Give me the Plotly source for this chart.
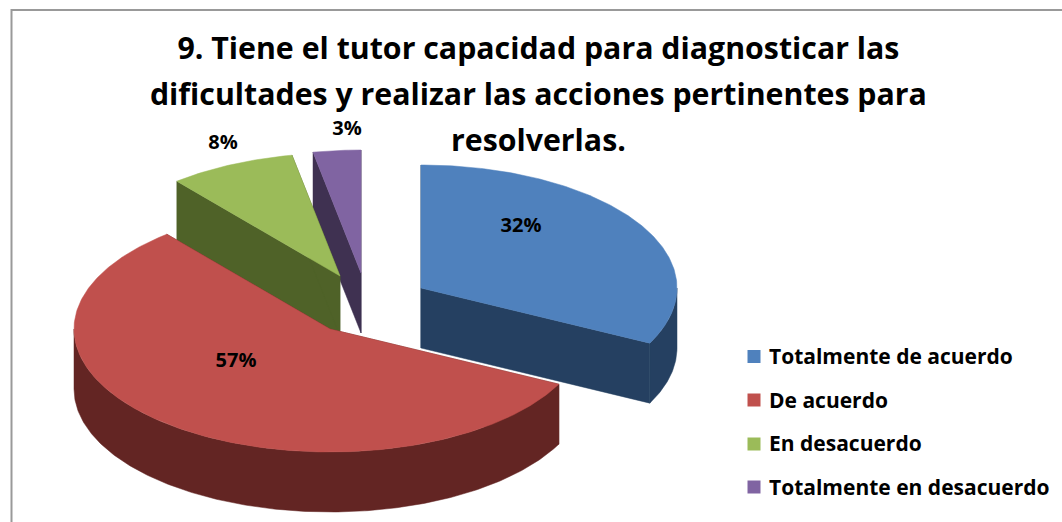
import math
import plotly.graph_objects as go

# --- data -------------------------------------------------------------
categories = ["Totalmente de acuerdo", "De acuerdo", "En desacuerdo", "Totalmente en desacuerdo"]
percent_values = [32.4, 56.6, 8.0, 3.0]
percent_labels = ["32%", "57%", "8%", "3%"]

# --- style / layout ---------------------------------------------------
TOP_COLORS = ["#4F81BD", "#C0504D", "#9BBB59", "#8064A2"]
SIDE_COLORS = ["#254061", "#632523", "#4F6228", "#3F3151"]
APEX_X = [421, 330, 340, 361]
APEX_Y = [288, 329, 276, 273]
RX, RY, DEPTH = 256, 123, 60
LABEL_X = [521, 236, 223, 347]
LABEL_Y = [227, 362, 144, 130]
LEGEND_MARK_X = 754
LEGEND_TEXT_X = 769
LEGEND_Y = [359, 403, 446, 490]
MARK_Y = [356.5, 400, 444, 487]
FONT = "Open Sans"
TITLE_LINES = ["9. Tiene el tutor capacidad para diagnosticar las",
               "dificultades y realizar las acciones pertinentes para",
               "resolverlas."]
TITLE = "<br>".join('<span style="font-size:30.3px">%s</span>' % t for t in TITLE_LINES)


def rim(ax, ay, a0, a1, dy=0):
    n = max(2, int(abs(a1 - a0) * 1.5))
    pts = [a0 + (a1 - a0) * i / (n - 1) for i in range(n)]
    return ([ax + RX * math.sin(math.radians(a)) for a in pts],
            [ay + dy - RY * math.cos(math.radians(a)) for a in pts])


fig = go.Figure()


def poly(xs, ys, color):
    fig.add_trace(go.Scatter(x=xs, y=ys, mode="lines", fill="toself", fillcolor=color,
                             line=dict(color=color, width=0.5), showlegend=False,
                             hoverinfo="skip"))


total = sum(percent_values)
angles = [0.0]
for v in percent_values:
    angles.append(angles[-1] + 360.0 * v / total)


def walls(i):
    ax, ay, a0, a1 = APEX_X[i], APEX_Y[i], angles[i], angles[i + 1]
    c = SIDE_COLORS[i]
    for a in (a0, a1):
        ex, ey = rim(ax, ay, a, a, 0)
        poly([ax, ex[0], ex[0], ax, ax], [ay, ey[0], ey[0] + DEPTH, ay + DEPTH, ay], c)
    lo, hi = max(a0, 90), min(a1, 270)
    if hi > lo:
        tx, ty = rim(ax, ay, lo, hi)
        bx, by = rim(ax, ay, hi, lo, DEPTH)
        poly(tx + bx + tx[:1], ty + by + ty[:1], c)


def top(i):
    ax, ay = APEX_X[i], APEX_Y[i]
    xs, ys = rim(ax, ay, angles[i], angles[i + 1])
    poly([ax] + xs + [ax], [ay] + ys + [ay], TOP_COLORS[i])


# painter's order: back slices first
for i in (3, 2, 0, 1):
    walls(i)
    top(i)

# data labels
fig.add_trace(go.Scatter(x=LABEL_X, y=LABEL_Y, mode="text", text=percent_labels,
                         textfont=dict(family=FONT, size=20, color="#000000", weight="bold"),
                         textposition="middle center", showlegend=False, hoverinfo="skip"))

# legend entries
for name, color, y in zip(categories, TOP_COLORS, MARK_Y):
    fig.add_trace(go.Scatter(x=[LEGEND_MARK_X], y=[y], mode="markers", name=name,
                             showlegend=False,
                             marker=dict(symbol="square", size=13, color=color)))
fig.add_trace(go.Scatter(x=[LEGEND_TEXT_X] * 4, y=LEGEND_Y, mode="text", text=categories,
                         textfont=dict(family=FONT, size=21, color="#000000", weight="bold"),
                         textposition="middle right", showlegend=False, hoverinfo="skip"))

fig.update_layout(
    width=1062, height=522,
    margin=dict(l=0, r=0, t=0, b=0),
    paper_bgcolor="white", plot_bgcolor="white",
    xaxis=dict(range=[0, 1062], visible=False, fixedrange=True),
    yaxis=dict(range=[522, 0], visible=False, fixedrange=True),
    font=dict(family=FONT),
    showlegend=False,
    title=dict(text=TITLE, x=0.507, xanchor="center", y=0.887, yanchor="top",
               font=dict(family=FONT, size=35.4, color="#000000", weight="bold")),
    shapes=[dict(type="rect", xref="x", yref="y", x0=11.5, y0=10, x1=1080, y1=540,
                 line=dict(color="#999999", width=2), layer="below")],
)
fig.write_html("out.html", config={"displayModeBar": False},
               post_script="document.body.style.margin='0';document.body.style.overflow='hidden';")
